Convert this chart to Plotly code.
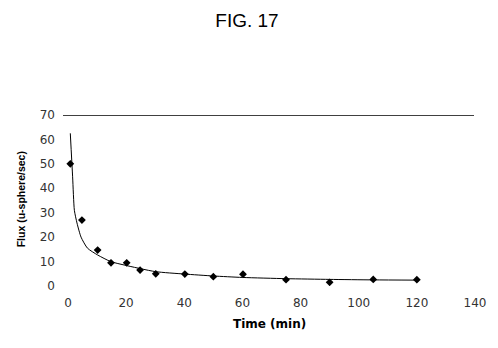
import plotly.graph_objects as go

# Measured data points (time in min, flux)
time_min = [0.8, 4.8, 10.2, 14.8, 20.2, 24.8, 30.2, 40.2, 50, 60.2, 75, 90, 105, 120]
flux = [50, 27, 14.7, 9.5, 9.5, 6.5, 5.0, 4.9, 3.8, 4.8, 2.6, 1.5, 2.7, 2.6]

# Fitted curve
curve_t = [0.8, 1.6, 2.2, 3.1, 4.5, 6.7, 10.2, 14.7, 19.3, 30, 40, 50, 60, 75, 90, 105, 120]
curve_flux = [62.5, 44.7, 31, 25.8, 20, 15.5, 12.7, 10, 8.6, 5.9, 4.9, 4.1, 3.5, 3.0, 2.7, 2.5, 2.4]

x_ticks = [0, 20, 40, 60, 80, 100, 120, 140]
y_ticks = [0, 10, 20, 30, 40, 50, 60, 70]

fig = go.Figure()
fig.add_trace(go.Scatter(x=curve_t, y=curve_flux, mode="lines",
                         line=dict(color="black", width=1, shape="spline", smoothing=0.6),
                         showlegend=False, hoverinfo="skip"))
fig.add_trace(go.Scatter(x=time_min, y=flux, mode="markers",
                         marker=dict(symbol="diamond", size=6, color="black"),
                         showlegend=False))

tick_font = dict(family="DejaVu Sans", size=12, color="#333")
fig.update_xaxes(range=[-1.71, 140], tickvals=x_ticks, showgrid=False, zeroline=False,
                 showline=False, ticks="", tickfont=tick_font, ticklabelstandoff=8)
fig.update_yaxes(range=[0, 70], tickvals=y_ticks, showgrid=False, zeroline=False,
                 showline=False, ticks="", tickfont=tick_font, ticklabelstandoff=7)

fig.add_shape(type="line", xref="paper", yref="y", x0=0, x1=0.9976, y0=70, y1=70,
              line=dict(color="black", width=1.5))

fig.add_annotation(text="Time (min)", xref="paper", yref="paper", x=0.501, y=-0.222,
                   showarrow=False, font=dict(family="DejaVu Sans", size=12, color="black",
                                              weight="bold"),
                   xanchor="center", yanchor="middle")
fig.add_annotation(text="Flux (u-sphere/sec)", xref="paper", yref="paper", x=-0.101, y=0.509,
                   showarrow=False, textangle=-90,
                   font=dict(family="Liberation Sans", size=10.5, color="black", weight="bold"),
                   xanchor="center", yanchor="middle")

fig.update_layout(
    width=498, height=348,
    margin=dict(l=63, r=20, t=115, b=62),
    paper_bgcolor="white", plot_bgcolor="white",
    title=dict(text="FIG. 17", x=247 / 498, y=1 - 20 / 348, xanchor="center", yanchor="middle",
               xref="container", yref="container",
               font=dict(family="Liberation Sans", size=19, color="black")),
)

fig.write_html("out.html")
